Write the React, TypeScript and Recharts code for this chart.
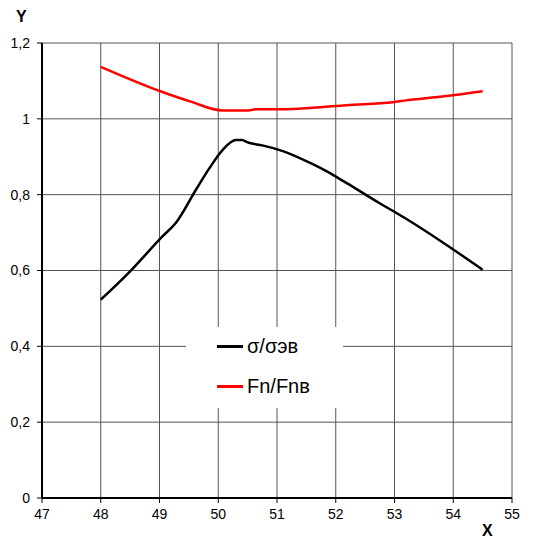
import { LineChart, Line, XAxis, YAxis, CartesianGrid, Legend } from "recharts";

const sigmaX = [48, 48.5, 49.05, 49.28, 49.62, 49.85, 50.08, 50.3, 50.4, 50.52, 50.75, 51.1, 51.6, 51.84, 52.18, 52.74, 53.17, 53.88, 54.5];
const sigmaY = [0.523, 0.598, 0.69, 0.726, 0.813, 0.87, 0.919, 0.944, 0.944, 0.937, 0.93, 0.915, 0.881, 0.862, 0.831, 0.778, 0.739, 0.668, 0.602];

const fX = [48, 49.06, 49.52, 50.08, 50.48, 50.65, 51.1, 51.6, 52.18, 52.97, 53.17, 53.88, 54.5];
const fY = [1.137, 1.07, 1.046, 1.022, 1.022, 1.025, 1.025, 1.029, 1.036, 1.044, 1.048, 1.06, 1.073];

const seriesNames = ["σ/σэв", "Fn/Fnв"];
const xTicks = [47, 48, 49, 50, 51, 52, 53, 54, 55];
const yTicks = [0, 0.2, 0.4, 0.6, 0.8, 1, 1.2];

const sigmaData = sigmaX.map((x, i) => ({ x, y: sigmaY[i] }));
const fData = fX.map((x, i) => ({ x, y: fY[i] }));

const font = "'Liberation Sans', Arial, sans-serif";

function LegendBox({ payload }: any) {
  const items = seriesNames
    .map((n) => (payload || []).find((p: any) => p.value === n))
    .filter(Boolean);
  return (
    <div style={{ background: "#fff", width: "100%", height: "100%", fontFamily: font, fontSize: 20, color: "#000" }}>
      {items.map((p: any, i: number) => (
        <div key={i} style={{ position: "absolute", left: 31, top: i === 0 ? 8 : 48, display: "flex", alignItems: "center" }}>
          <span style={{ display: "inline-block", width: 26, height: 2.5, background: p.color, marginRight: 4 }} />
          <span>{p.value}</span>
        </div>
      ))}
    </div>
  );
}

export default function App() {
  return (
    <div style={{ position: "absolute", left: 0, top: 0, width: 536, height: 538, background: "#fff", fontFamily: font }}>
      <LineChart width={536} height={538} margin={{ top: 43, right: 24, bottom: 0, left: 0 }}>
        <CartesianGrid stroke="#555" strokeWidth={1} />
        <XAxis
          type="number"
          dataKey="x"
          domain={[47, 55]}
          ticks={xTicks}
          allowDataOverflow
          height={40}
          tickSize={5}
          tickMargin={6}
          stroke="#000"
          axisLine={{ stroke: "#000", strokeWidth: 2 }}
          tick={{ fill: "#000", fontSize: 14, fontFamily: font }}
        />
        <YAxis
          type="number"
          dataKey="y"
          domain={[0, 1.2]}
          ticks={yTicks}
          width={42}
          tickSize={5}
          tickMargin={7}
          stroke="#000"
          axisLine={{ stroke: "#000", strokeWidth: 2 }}
          tick={{ fill: "#000", fontSize: 14, fontFamily: font }}
          tickFormatter={(v: number) => String(v).replace(".", ",")}
        />
        <Legend
          layout="vertical"
          align="center"
          verticalAlign="middle"
          content={<LegendBox />}
          wrapperStyle={{ position: "absolute", left: 186, top: 327, width: 157, height: 81 }}
        />
        <Line data={sigmaData} dataKey="y" name={seriesNames[0]} type="monotone" stroke="#000" strokeWidth={2.5} dot={false} isAnimationActive={false} />
        <Line data={fData} dataKey="y" name={seriesNames[1]} type="monotone" stroke="#ff0000" strokeWidth={2.5} dot={false} isAnimationActive={false} />
      </LineChart>
      <div style={{ position: "absolute", left: 16, top: 8, fontSize: 16, fontWeight: "bold" }}>Y</div>
      <div style={{ position: "absolute", left: 482, top: 522, fontSize: 16, fontWeight: "bold" }}>X</div>
    </div>
  );
}
